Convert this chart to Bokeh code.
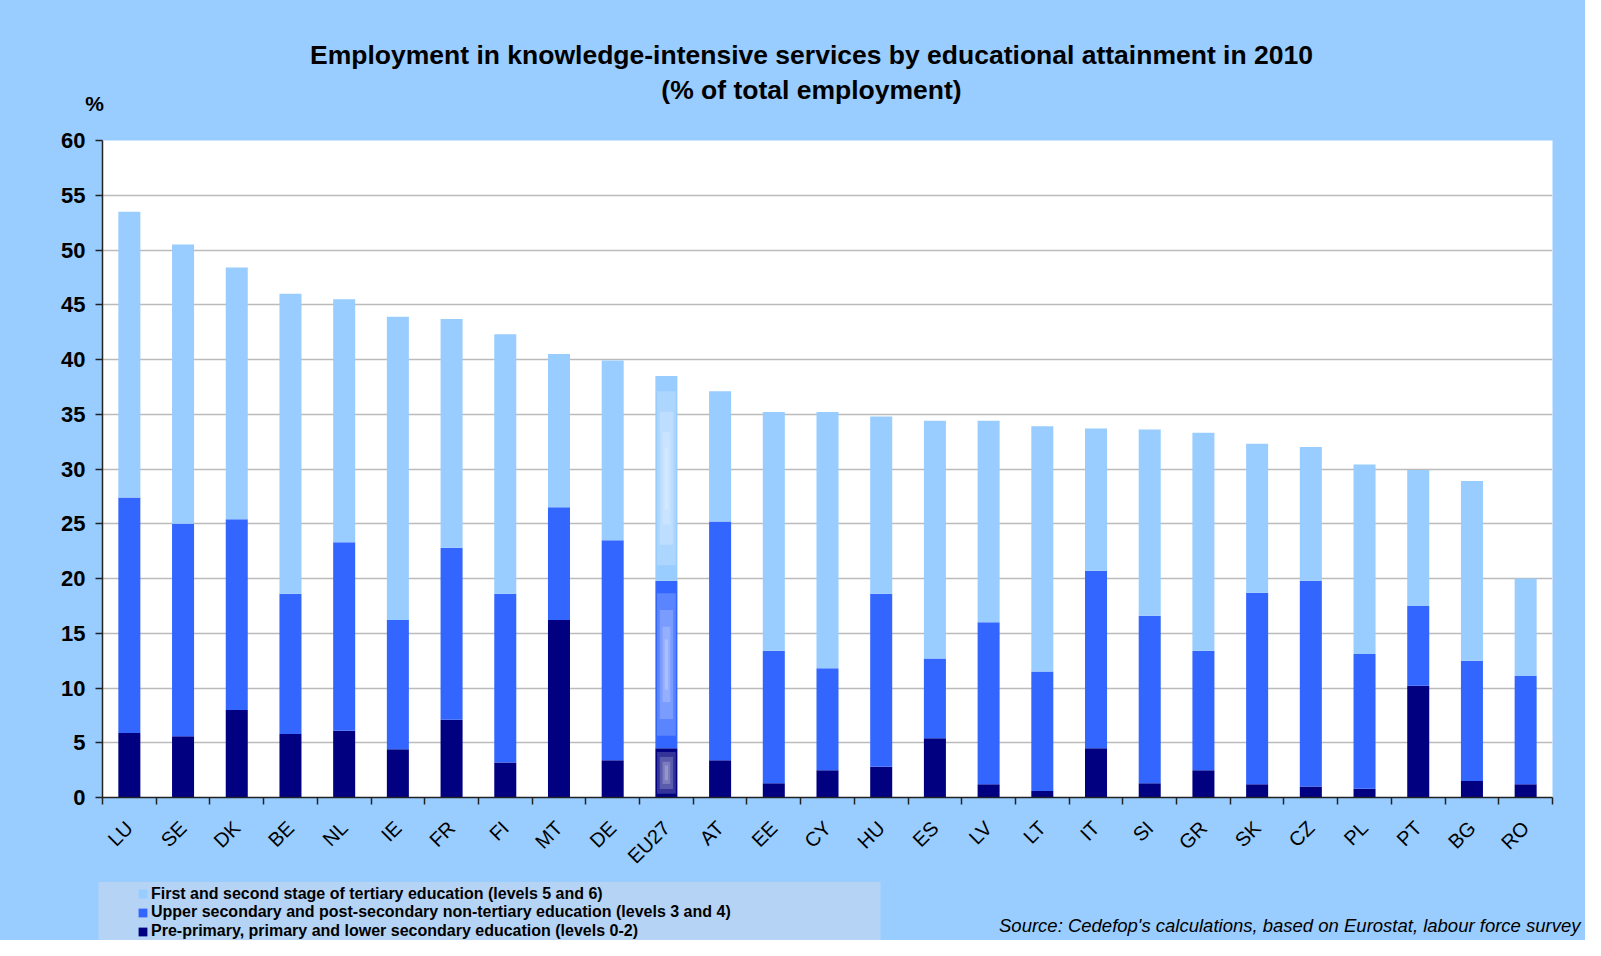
import numpy as np
from bokeh.plotting import figure
from bokeh.models import (ColumnDataSource, Range1d, FixedTicker, Label, Legend,
                          LegendItem, BoxAnnotation)
from bokeh.layouts import column
from bokeh.embed import file_html
from bokeh.resources import INLINE

# ---------------- data ----------------
countries = ["LU", "SE", "DK", "BE", "NL", "IE", "FR", "FI", "MT", "DE", "EU27", "AT", "EE", "CY",
             "HU", "ES", "LV", "LT", "IT", "SI", "GR", "SK", "CZ", "PL", "PT", "BG", "RO"]
# cumulative levels (stack tops)
low_edu = [5.9, 5.6, 8.0, 5.8, 6.1, 4.4, 7.1, 3.2, 16.2, 3.4, 4.5, 3.4, 1.3, 2.5,
           2.8, 5.4, 1.2, 0.6, 4.5, 1.3, 2.5, 1.2, 1.0, 0.8, 10.2, 1.5, 1.2]
mid_top = [27.4, 25.0, 25.4, 18.6, 23.3, 16.2, 22.8, 18.6, 26.5, 23.5, 19.8, 25.2, 13.4, 11.8,
           18.6, 12.7, 16.0, 11.5, 20.7, 16.6, 13.4, 18.7, 19.8, 13.1, 17.5, 12.5, 11.1]
total = [53.5, 50.5, 48.4, 46.0, 45.5, 43.9, 43.7, 42.3, 40.5, 39.9, 38.5, 37.1, 35.2, 35.2,
         34.8, 34.4, 34.4, 33.9, 33.7, 33.6, 33.3, 32.3, 32.0, 30.4, 29.9, 28.9, 20.0]
y_ticks = list(range(0, 65, 5))
series_labels = ["First and second stage of tertiary education (levels 5 and 6)",
                 "Upper secondary and post-secondary non-tertiary education (levels 3 and 4)",
                 "Pre-primary, primary and lower secondary education (levels 0-2)"]
series_colors = ["#99CCFF", "#3366FF", "#000080"]
title_lines = ["Employment in knowledge-intensive services by educational attainment in 2010",
               "(% of total employment)"]
y_unit = "%"
source_text = "Source: Cedefop's calculations, based on Eurostat, labour force survey"

# ---------------- styling ----------------
BG = "#99CCFF"
C_LIGHT, C_MID, C_DARK = series_colors
FONT = "Liberation Sans"
W = 1585
H_TOP, H_MAIN, H_BOT = 126, 753, 61
FRAME_L, FRAME_W, FRAME_T, FRAME_H = 102, 1450, 14, 657


def blank_fig(h):
    f = figure(width=W, height=h, output_backend="svg", toolbar_location=None,
               x_range=Range1d(0, W), y_range=Range1d(0, h), min_border=0)
    f.axis.visible = False
    f.grid.visible = False
    f.outline_line_color = None
    f.background_fill_color = BG
    f.border_fill_color = BG
    f.frame_align = False
    return f


# ---------------- top: title ----------------
top = blank_fig(H_TOP)
top.add_layout(Label(x=811, y=H_TOP - 54, text=title_lines[0], text_align="center", text_baseline="middle",
                     text_font=FONT, text_font_style="bold", text_font_size="26.5px", text_color="black"))
top.add_layout(Label(x=811, y=H_TOP - 89, text=title_lines[1], text_align="center", text_baseline="middle",
                     text_font=FONT, text_font_style="bold", text_font_size="26.5px", text_color="black"))
top.add_layout(Label(x=94, y=H_TOP - 103, text=y_unit, text_align="center", text_baseline="middle",
                     text_font=FONT, text_font_style="bold", text_font_size="21px", text_color="black"))

# ---------------- main chart ----------------
n = len(countries)
xc = np.arange(n) + 0.5
BAR_W = 0.41

src = ColumnDataSource(dict(x=xc, zero=[0] * n, low=low_edu, mid=mid_top, top=total))

p = figure(width=W, height=H_MAIN, output_backend="svg", toolbar_location=None,
           x_range=Range1d(0, n), y_range=Range1d(0, 60))
p.frame_align = False
p.min_border_left = FRAME_L
p.min_border_right = W - FRAME_L - FRAME_W
p.min_border_top = FRAME_T
p.min_border_bottom = H_MAIN - FRAME_T - FRAME_H
p.background_fill_color = "white"
p.border_fill_color = BG
p.outline_line_color = None

r_dark = p.vbar(x="x", bottom="zero", top="low", width=BAR_W, source=src,
                fill_color=C_DARK, line_color=None)
r_mid = p.vbar(x="x", bottom="low", top="mid", width=BAR_W, source=src,
               fill_color=C_MID, line_color=None)
r_light = p.vbar(x="x", bottom="mid", top="top", width=BAR_W, source=src,
                 fill_color=C_LIGHT, line_color=None)

# EU27 highlighted bar: soft glow overlays derived from its values
ei = countries.index("EU27")
segs = [(0, low_edu[ei]), (low_edu[ei], mid_top[ei]), (mid_top[ei], total[ei])]
gx, gy, gw, gh = [], [], [], []
for b, t in segs:
    for fw, fh in [(0.85, 0.85), (0.6, 0.65), (0.35, 0.45), (0.15, 0.3)]:
        gx.append(xc[ei]); gy.append((b + t) / 2)
        gw.append(BAR_W * fw); gh.append((t - b) * fh)
p.rect(x=gx, y=gy, width=gw, height=gh, fill_color="white", fill_alpha=0.2, line_color=None)

# axes
p.yaxis.ticker = FixedTicker(ticks=y_ticks)
p.yaxis.major_label_text_font = FONT
p.yaxis.major_label_text_font_style = "bold"
p.yaxis.major_label_text_font_size = "22px"
p.yaxis.major_label_text_color = "black"
p.yaxis.major_tick_out = 7
p.yaxis.major_tick_in = 0
p.yaxis.minor_tick_line_color = None
p.yaxis.axis_line_color = "#222222"
p.yaxis.axis_line_width = 1.5
p.yaxis.major_tick_line_color = "#222222"
p.yaxis.major_tick_line_width = 1.5
p.yaxis.major_label_standoff = 10

p.xaxis.ticker = FixedTicker(ticks=list(xc), minor_ticks=list(range(n + 1)))
p.xaxis.major_label_overrides = {float(x): c for x, c in zip(xc, countries)}
p.xaxis.major_label_orientation = np.pi / 4
p.xaxis.major_label_text_font = FONT
p.xaxis.major_label_text_font_style = "normal"
p.xaxis.major_label_text_font_size = "20px"
p.xaxis.major_label_text_color = "black"
p.xaxis.major_tick_line_color = None
p.xaxis.major_tick_out = 0
p.xaxis.major_tick_in = 0
p.xaxis.minor_tick_out = 7
p.xaxis.minor_tick_in = 0
p.xaxis.minor_tick_line_color = "#222222"
p.xaxis.minor_tick_line_width = 1.5
p.xaxis.axis_line_color = "#222222"
p.xaxis.axis_line_width = 1.5
p.xaxis.major_label_standoff = 20

p.xgrid.grid_line_color = None
p.ygrid.ticker = FixedTicker(ticks=y_ticks)
p.ygrid.grid_line_color = "#BBBBBB"
p.ygrid.grid_line_width = 1.5

# ---------------- bottom: legend + source ----------------
bot = blank_fig(H_BOT)
bot.add_layout(BoxAnnotation(left=98, right=880, top=H_BOT - 2.6, bottom=0,
                             fill_color="#B5D3F5", fill_alpha=1.0, line_color=None))
row_centers = [14.6, 33.2, 51.8]  # distance from top of the bottom strip
ITEM_H = 18.5
for lab, col, rc in zip(series_labels, series_colors, row_centers):
    dummy = bot.vbar(x=[-100], top=[-100], width=1, fill_color=col, line_color=None)
    lg = Legend(items=[LegendItem(label=lab, renderers=[dummy])],
                location=(137, H_BOT - rc - ITEM_H / 2), orientation="vertical",
                padding=0, margin=0, spacing=0,
                glyph_width=11, glyph_height=11, label_height=14, label_standoff=3,
                background_fill_alpha=0, border_line_color=None,
                label_text_font=FONT, label_text_font_style="bold", label_text_font_size="16px",
                label_text_color="black", label_text_baseline="middle")
    bot.add_layout(lg, "center")
bot.add_layout(Label(x=1580, y=H_BOT - 45.5, text=source_text, text_align="right", text_baseline="middle",
                     text_font=FONT, text_font_style="italic", text_font_size="18.5px", text_color="black"))

layout = column(top, p, bot, spacing=0, styles={"background-color": BG})
open("out.html", "w").write(file_html(layout, INLINE))
